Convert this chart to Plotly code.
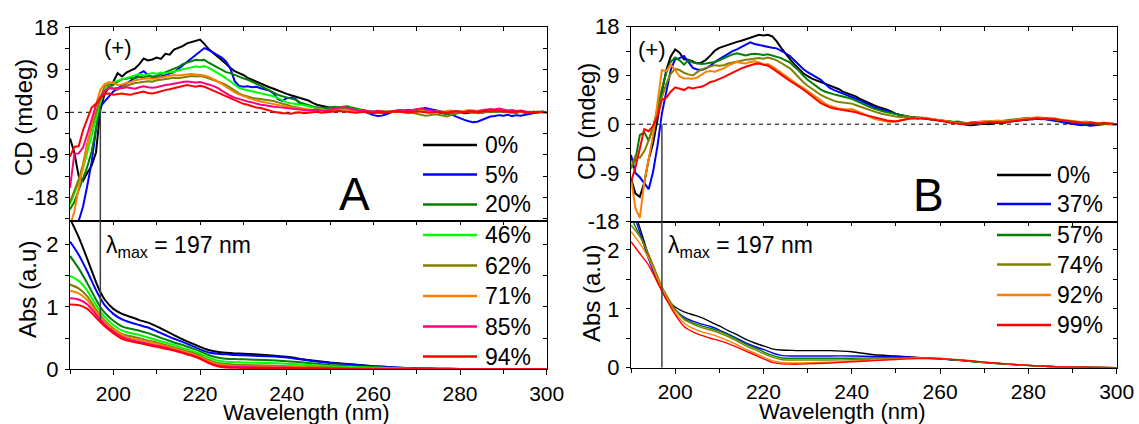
import plotly.graph_objects as go

W, H = 1139, 424
FONT = "Liberation Sans, Arial, sans-serif"

# ---------------- wavelength grids ----------------
WL = list(range(190, 301))
ABS_WL = [190, 192, 194, 196, 197, 198, 200, 202, 204, 206, 208, 210, 212, 214, 216, 218,
          220, 222, 224, 226, 228, 230, 235, 240, 245, 250, 255, 260, 265, 270, 275, 280,
          285, 290, 295, 300]

# ---------------- panel A : CD (mdeg), 1 nm steps 190-300 ----------------
cd_a_0 = [-5.5, -8.5, -13.5, -14.5, -12.8, -11.3, -8.5, 0.5, 4.0, 5.2,
          6.5, 8.3, 7.6, 8.4, 8.8, 9.3, 10.2, 11.4, 11.0, 11.2,
          11.6, 11.3, 12.4, 12.2, 13.3, 13.6, 14.0, 14.6, 14.9, 15.1,
          15.4, 14.5, 13.4, 12.6, 11.9, 11.1, 10.3, 9.4, 8.7, 8.3,
          7.9, 7.3, 6.9, 6.5, 6.0, 5.7, 5.3, 5.0, 4.6, 4.2,
          3.9, 3.6, 3.3, 3.0, 2.7, 2.5, 2.0, 1.6, 1.4, 1.2,
          0.9, 0.8, 0.9, 1.1, 1.0, 0.8, 0.6, 0.5, 0.3, 0.2,
          0.1, 0.2, 0.0, -0.2, 0.1, 0.2, 0.3, 0.5, 0.4, 0.3,
          0.5, 0.6, 0.5, 0.3, 0.1, 0.0, -0.2, -0.3, -0.1, 0.1,
          0.0, -0.2, -0.1, 0.1, 0.0, -0.1, 0.1, 0.3, 0.2, 0.4,
          0.3, 0.2, 0.0, -0.1, 0.1, 0.0, -0.2, -0.1, 0.0, 0.1, 0.0]
cd_a_5 = [-30.0, -26.0, -23.0, -20.0, -15.5, -10.5, -3.6, 1.2, 2.3, 3.3,
          4.4, 5.0, 5.7, 6.1, 6.7, 7.3, 8.2, 8.7, 7.9, 7.4,
          7.3, 7.6, 7.9, 8.1, 8.5, 9.2, 9.9, 10.7, 11.5, 12.2,
          12.9, 13.6, 13.2, 12.7, 12.2, 11.6, 10.8, 9.3, 6.6, 5.6,
          5.4, 5.5, 5.3, 5.4, 5.1, 4.9, 4.6, 4.0, 2.8, 2.4,
          3.0, 3.1, 2.9, 1.9, 1.6, 1.4, 1.1, 1.0, 0.9, 0.7,
          0.6, 0.5, 0.6, 0.8, 0.7, 0.5, 0.3, 0.2, 0.1, -0.3,
          -0.6, -0.8, -0.7, -0.4, 0.0, 0.3, 0.4, 0.3, 0.5, 0.4,
          0.6, 0.8, 0.9, 0.7, 0.5, 0.3, 0.2, -0.1, -0.5, -0.9,
          -1.3, -1.6, -1.9, -2.1, -2.0, -1.6, -1.2, -0.9, -0.8, -0.6,
          -0.7, -0.5, -0.8, -0.6, -0.7, -0.5, -0.3, -0.2, 0.0, 0.1, 0.0]
cd_a_20 = [-20.5, -19.0, -16.5, -14.0, -11.5, -8.3, -3.4, 2.5, 4.6, 5.4,
           5.8, 6.5, 7.0, 7.1, 7.3, 7.2, 7.5, 7.4, 7.7, 7.6,
           7.7, 8.1, 8.5, 8.9, 9.2, 9.6, 10.2, 10.5, 10.9, 11.1,
           11.0, 11.1, 10.5, 10.0, 9.6, 9.0, 8.5, 8.3, 7.9, 7.6,
           7.2, 6.9, 6.5, 6.0, 5.6, 5.1, 4.6, 4.1, 3.7, 3.4,
           3.1, 2.9, 2.7, 2.1, 1.8, 1.5, 1.2, 1.0, 0.9, 0.9,
           1.0, 1.2, 1.1, 1.2, 1.3, 1.0, 0.8, 0.5, 0.3, 0.2,
           0.1, 0.0, -0.2, 0.0, 0.2, 0.1, 0.2, 0.4, 0.3, 0.2,
           0.4, 0.5, 0.4, 0.3, 0.1, 0.0, -0.2, -0.4, -0.3, -0.1,
           0.0, 0.1, 0.0, -0.1, 0.1, 0.2, 0.1, 0.3, 0.2, 0.1,
           0.3, 0.2, 0.0, 0.1, 0.2, 0.0, -0.1, 0.1, 0.0, 0.1, 0.0]
cd_a_46 = [-19.5, -17.2, -14.8, -12.0, -8.5, -5.0, -1.2, 2.2, 4.8, 6.0,
           6.4, 6.7, 7.0, 7.3, 7.6, 7.8, 8.1, 7.8, 8.0, 8.3,
           8.1, 8.4, 8.2, 8.5, 8.6, 8.9, 9.1, 9.3, 9.5, 9.7,
           9.6, 9.8, 9.4, 8.9, 8.4, 7.8, 7.2, 6.5, 5.7, 5.2,
           4.9, 4.7, 4.5, 4.3, 4.0, 3.8, 3.6, 3.4, 3.0, 2.6,
           2.1, 1.9, 1.8, 1.6, 1.5, 1.3, 1.0, 0.8, 0.7, 0.5,
           0.6, 0.8, 0.9, 1.0, 0.9, 0.8, 0.6, 0.4, 0.2, 0.3,
           0.1, 0.0, 0.1, 0.2, 0.3, 0.2, 0.4, 0.5, 0.3, 0.4,
           0.6, 0.7, 0.5, 0.4, 0.2, 0.1, 0.0, -0.2, -0.1, 0.1,
           0.2, 0.0, 0.1, 0.2, 0.3, 0.1, 0.2, 0.4, 0.3, 0.5,
           0.4, 0.2, 0.3, 0.1, 0.2, 0.0, 0.1, 0.0, 0.1, 0.0, 0.0]
cd_a_62 = [-19.0, -16.5, -14.2, -11.0, -6.5, -3.2, 0.0, 3.0, 5.6, 5.8,
           5.0, 4.8, 5.3, 5.6, 6.0, 6.2, 6.3, 6.4, 6.6, 6.5,
           6.8, 6.9, 7.0, 7.1, 7.3, 7.2, 7.4, 7.6, 7.7, 7.6,
           7.7, 7.5, 7.2, 6.9, 6.5, 6.2, 5.8, 5.2, 4.6, 4.0,
           3.6, 3.3, 3.1, 2.9, 2.8, 2.6, 2.5, 2.4, 2.1, 1.9,
           1.6, 1.3, 1.1, 0.9, 0.8, 0.6, 0.5, 0.4, 0.5, 0.3,
           0.2, 0.3, 0.4, 0.2, 0.3, 0.1, 0.0, 0.1, 0.2, 0.0,
           -0.1, 0.0, 0.2, 0.1, 0.2, 0.0, 0.1, 0.0, -0.2, -0.1,
           -0.3, -0.5, -0.7, -0.6, -0.4, -0.5, -0.7, -0.9, -0.6, -0.3,
           -0.1, 0.0, 0.1, 0.0, -0.2, -0.1, 0.0, 0.1, 0.0, 0.2,
           0.1, 0.0, -0.1, 0.0, 0.1, -0.1, 0.0, 0.1, 0.0, 0.0, 0.0]
cd_a_71 = [-24.0, -21.0, -16.0, -11.5, -6.5, -2.5, 1.6, 4.8, 6.0, 6.4,
           6.2, 5.8, 5.9, 6.1, 6.4, 6.8, 7.0, 7.1, 7.2, 7.1,
           7.2, 7.4, 7.6, 7.8, 7.9, 7.8, 7.9, 8.0, 8.1, 8.0,
           7.9, 7.8, 7.5, 7.1, 6.6, 6.0, 5.4, 4.8, 4.2, 3.8,
           3.4, 3.1, 2.8, 2.5, 2.3, 2.1, 1.9, 1.7, 1.5, 1.3,
           1.1, 1.0, 0.9, 0.8, 0.7, 0.6, 0.5, 0.4, 0.6, 0.5,
           0.4, 0.6, 0.7, 0.5, 0.6, 0.4, 0.2, 0.1, 0.3, 0.2,
           0.0, 0.1, 0.0, 0.2, 0.1, 0.3, 0.2, 0.1, 0.2, 0.0,
           0.1, 0.3, 0.2, 0.1, 0.0, 0.2, 0.1, 0.3, 0.4, 0.2,
           0.1, 0.3, 0.5, 0.4, 0.3, 0.5, 0.6, 0.4, 0.5, 0.3,
           0.4, 0.2, 0.3, 0.1, 0.2, 0.0, 0.1, 0.0, 0.1, 0.0, 0.0]
cd_a_85 = [-16.0, -8.8, -8.7, -7.5, -4.6, -1.5, 1.5, 3.3, 4.5, 5.1,
           5.0, 5.2, 5.1, 5.3, 5.2, 5.0, 5.3, 5.5, 5.3, 5.2,
           5.3, 5.6, 5.8, 5.9, 6.1, 6.2, 6.4, 6.5, 6.4, 6.3,
           6.4, 6.2, 5.9, 5.6, 5.2, 4.6, 4.0, 3.5, 3.1, 2.8,
           2.5, 2.3, 2.1, 1.8, 1.6, 1.5, 1.3, 1.2, 1.1, 1.0,
           0.9, 0.8, 0.7, 0.6, 0.5, 0.4, 0.5, 0.6, 0.4, 0.3,
           0.5, 0.8, 0.9, 1.1, 0.9, 0.7, 0.5, 0.3, 0.4, 0.2,
           0.1, 0.3, 0.2, 0.0, 0.1, 0.3, 0.5, 0.4, 0.3, 0.5,
           0.7, 0.8, 0.6, 0.4, 0.3, 0.1, 0.0, -0.2, 0.0, 0.2,
           0.1, 0.0, 0.2, 0.3, 0.2, 0.4, 0.5, 0.7, 0.6, 0.8,
           0.6, 0.4, 0.5, 0.3, 0.4, 0.2, 0.0, 0.1, 0.0, 0.1, 0.0]
cd_a_94 = [-9.4, -7.3, -7.2, -3.8, -1.4, 1.0, 1.8, 3.0, 3.9, 4.0,
           3.7, 3.9, 4.0, 3.8, 3.7, 4.0, 4.2, 4.4, 4.1, 4.0,
           4.2, 4.5, 4.7, 4.9, 5.1, 5.4, 5.6, 5.8, 5.6, 5.4,
           5.6, 5.4, 5.0, 4.6, 4.2, 3.7, 3.3, 2.9, 2.5, 2.1,
           1.8, 1.6, 1.3, 1.0, 0.9, 0.7, 0.4, 0.1, -0.1, -0.2,
           -0.2, -0.3, -0.1, 0.0, -0.2, -0.1, 0.0, 0.1, -0.1, 0.0,
           0.1, 0.2, 0.3, 0.2, 0.1, 0.0, -0.1, 0.0, 0.1, -0.1,
           -0.2, 0.0, 0.1, 0.0, 0.1, 0.2, 0.1, 0.0, 0.1, 0.0,
           0.2, 0.1, 0.0, -0.1, 0.0, 0.1, 0.0, -0.1, 0.1, 0.2,
           0.1, 0.0, 0.2, 0.1, 0.0, 0.1, 0.3, 0.2, 0.4, 0.3,
           0.2, 0.1, 0.0, 0.1, 0.2, 0.0, -0.1, 0.0, 0.1, 0.0, 0.0]

# ---------------- panel A : absorbance (a.u) ----------------
abs_a_0 = [2.42, 2.12, 1.77, 1.40, 1.24, 1.12, 0.97, 0.89, 0.84, 0.79, 0.75, 0.69,
           0.62, 0.55, 0.48, 0.42, 0.36, 0.31, 0.28, 0.265, 0.255, 0.25, 0.23, 0.20,
           0.15, 0.11, 0.08, 0.05, 0.03, 0.015, 0.01, 0.005, 0.0, 0.0, 0.0, 0.0]
abs_a_5 = [2.05, 1.84, 1.57, 1.27, 1.14, 1.03, 0.89, 0.80, 0.75, 0.71, 0.67, 0.61,
           0.55, 0.49, 0.44, 0.38, 0.32, 0.27, 0.25, 0.24, 0.23, 0.225, 0.21, 0.19,
           0.14, 0.10, 0.075, 0.05, 0.03, 0.015, 0.01, 0.005, 0.0, 0.0, 0.0, 0.0]
abs_a_20 = [1.82, 1.62, 1.38, 1.12, 1.00, 0.91, 0.78, 0.69, 0.65, 0.62, 0.58, 0.53,
            0.48, 0.43, 0.39, 0.34, 0.29, 0.23, 0.19, 0.17, 0.165, 0.16, 0.15, 0.13,
            0.10, 0.07, 0.05, 0.035, 0.02, 0.01, 0.005, 0.0, 0.0, 0.0, 0.0, 0.0]
abs_a_46 = [1.50, 1.42, 1.26, 1.03, 0.93, 0.84, 0.71, 0.62, 0.58, 0.55, 0.51, 0.47,
            0.43, 0.39, 0.34, 0.30, 0.25, 0.19, 0.14, 0.12, 0.115, 0.11, 0.10, 0.09,
            0.07, 0.05, 0.035, 0.025, 0.015, 0.01, 0.005, 0.0, 0.0, 0.0, 0.0, 0.0]
abs_a_62 = [1.36, 1.30, 1.17, 0.96, 0.87, 0.78, 0.66, 0.57, 0.53, 0.50, 0.46, 0.43,
            0.39, 0.35, 0.31, 0.27, 0.22, 0.15, 0.10, 0.085, 0.075, 0.07, 0.06, 0.05,
            0.04, 0.03, 0.02, 0.015, 0.01, 0.005, 0.0, 0.0, 0.0, 0.0, 0.0, 0.0]
abs_a_71 = [1.26, 1.22, 1.11, 0.92, 0.84, 0.76, 0.64, 0.55, 0.50, 0.47, 0.44, 0.41,
            0.37, 0.33, 0.29, 0.25, 0.20, 0.13, 0.08, 0.06, 0.05, 0.045, 0.04, 0.04,
            0.03, 0.02, 0.015, 0.01, 0.005, 0.0, 0.0, 0.0, 0.0, 0.0, 0.0, 0.0]
abs_a_85 = [1.14, 1.12, 1.04, 0.88, 0.80, 0.72, 0.61, 0.52, 0.47, 0.44, 0.41, 0.38,
            0.35, 0.31, 0.27, 0.23, 0.18, 0.11, 0.06, 0.045, 0.04, 0.035, 0.03, 0.03,
            0.02, 0.015, 0.01, 0.005, 0.0, 0.0, 0.0, 0.0, 0.0, 0.0, 0.0, 0.0]
abs_a_94 = [1.04, 1.03, 0.97, 0.83, 0.76, 0.69, 0.58, 0.49, 0.45, 0.42, 0.39, 0.36,
            0.33, 0.30, 0.26, 0.22, 0.17, 0.10, 0.05, 0.03, 0.025, 0.02, 0.02, 0.02,
            0.015, 0.01, 0.005, 0.0, 0.0, 0.0, 0.0, 0.0, 0.0, 0.0, 0.0, 0.0]

# ---------------- panel B : CD (mdeg), 1 nm steps 190-300 ----------------
cd_b_0 = [-10.0, -12.8, -13.4, -10.8, -6.5, -3.5, 0.8, 6.0, 10.0, 12.5,
          13.8, 13.2, 12.0, 11.9, 11.6, 11.2, 11.4, 11.9, 12.7, 13.6,
          14.1, 14.4, 14.7, 14.9, 15.2, 15.4, 15.7, 15.9, 16.3, 16.5,
          16.4, 16.5, 16.2, 15.3, 14.1, 13.0, 12.0, 11.1, 10.2, 9.4,
          8.9, 8.4, 8.1, 7.8, 7.5, 7.2, 6.9, 6.5, 6.0, 5.7,
          5.4, 5.1, 4.6, 4.2, 3.8, 3.5, 3.2, 3.0, 2.7, 2.3,
          1.9, 1.7, 1.5, 1.4, 1.3, 1.2, 1.1, 1.0, 0.9, 0.8,
          0.8, 0.7, 0.6, 0.4, 0.2, 0.0, -0.1, -0.2, -0.1, 0.0,
          0.1, 0.0, 0.2, 0.3, 0.2, 0.4, 0.5, 0.6, 0.7, 0.8,
          0.8, 0.9, 1.0, 0.9, 1.0, 0.9, 0.8, 0.6, 0.4, 0.2,
          0.1, 0.0, -0.1, -0.1, -0.2, -0.1, 0.0, 0.1, 0.0, 0.1, 0.0]
cd_b_37 = [-5.7, -9.0, -9.8, -11.0, -12.0, -8.8, -4.0, 2.0, 6.0, 10.0,
           12.0, 12.2, 12.6, 11.5, 10.4, 10.1, 10.0, 10.3, 10.8, 11.5,
           12.0, 12.6, 13.1, 13.5, 13.8, 14.2, 14.6, 15.1, 14.8, 14.6,
           14.4, 14.2, 14.1, 14.0, 13.6, 13.1, 12.6, 11.8, 11.0, 10.2,
           9.6, 9.1, 8.7, 8.2, 7.4, 6.7, 6.3, 6.0, 5.7, 5.4,
           5.1, 4.7, 4.3, 3.9, 3.5, 3.2, 2.9, 2.7, 2.5, 2.2,
           1.9, 1.6, 1.4, 1.3, 1.2, 1.1, 1.2, 1.0, 0.9, 0.8,
           0.7, 0.5, 0.4, 0.3, 0.2, 0.1, 0.0, 0.1, 0.2, 0.1,
           0.2, 0.3, 0.2, 0.4, 0.3, 0.5, 0.6, 0.7, 0.8, 0.9,
           1.0, 0.9, 1.1, 1.0, 0.9, 0.8, 0.7, 0.5, 0.3, 0.2,
           0.1, -0.1, -0.2, -0.1, -0.3, -0.2, -0.1, 0.0, 0.1, 0.0, 0.0]
cd_b_57 = [-8.2, -6.5, -2.0, -1.5, -3.0, -0.5, 2.8, 6.5, 9.5, 11.5,
           12.3, 11.8, 11.0, 11.8, 11.4, 11.3, 11.1, 11.2, 11.3, 11.5,
           11.8, 12.2, 12.6, 12.9, 13.1, 12.9, 12.7, 12.9, 13.0, 12.9,
           12.8, 12.9, 12.7, 12.5, 12.2, 11.8, 11.4, 10.6, 9.9, 9.0,
           8.2, 7.6, 7.0, 6.4, 6.0, 5.7, 5.5, 5.3, 5.1, 4.9,
           4.7, 4.3, 3.9, 3.6, 3.2, 2.9, 2.6, 2.4, 2.2, 2.0,
           1.8, 1.6, 1.5, 1.4, 1.3, 1.2, 1.1, 1.0, 0.9, 0.8,
           0.7, 0.6, 0.5, 0.4, 0.5, 0.3, 0.2, 0.3, 0.4, 0.3,
           0.4, 0.5, 0.6, 0.5, 0.6, 0.7, 0.8, 0.9, 1.0, 1.1,
           1.2, 1.1, 1.2, 1.0, 1.1, 1.0, 0.9, 0.8, 0.6, 0.5,
           0.4, 0.3, 0.2, 0.1, 0.2, 0.1, 0.0, 0.1, 0.0, 0.0, 0.0]
cd_b_74 = [-8.0, -5.8, -6.2, -5.0, -3.0, -0.5, 2.0, 5.0, 7.5, 9.3,
           10.2, 10.0, 9.5, 9.2, 9.0, 9.6, 10.1, 10.4, 10.7, 10.9,
           10.8, 10.9, 11.2, 11.4, 11.6, 11.8, 11.9, 12.0, 12.1, 12.2,
           12.1, 12.3, 12.1, 11.8, 11.3, 10.8, 10.3, 9.5, 8.6, 7.8,
           7.1, 6.5, 6.0, 5.4, 5.0, 4.6, 4.3, 4.1, 4.0, 3.9,
           3.8, 3.5, 3.2, 2.9, 2.6, 2.3, 2.1, 1.9, 1.7, 1.5,
           1.4, 1.3, 1.4, 1.3, 1.2, 1.3, 1.2, 1.1, 1.0, 0.9,
           0.8, 0.6, 0.5, 0.3, 0.2, 0.1, 0.0, 0.1, 0.2, 0.1,
           0.3, 0.4, 0.5, 0.4, 0.5, 0.6, 0.7, 0.8, 0.9, 1.0,
           1.1, 1.0, 1.1, 1.2, 1.0, 1.1, 0.9, 0.8, 0.7, 0.6,
           0.5, 0.4, 0.3, 0.4, 0.3, 0.2, 0.1, 0.2, 0.1, 0.0, 0.0]
cd_b_92 = [-10.0, -15.5, -17.3, -10.8, -6.5, -2.0, 4.0, 10.0, 9.8, 11.0,
           10.0, 8.8, 8.5, 8.4, 8.4, 8.6, 9.2, 9.7, 9.8, 9.7,
           10.0, 10.3, 10.8, 11.2, 11.5, 11.3, 11.2, 11.5, 11.6, 11.4,
           11.0, 11.1, 10.7, 10.1, 9.5, 8.9, 8.3, 7.7, 7.2, 6.7,
           6.1, 5.6, 5.0, 4.4, 3.8, 3.4, 3.1, 2.9, 2.8, 2.7,
           2.8, 2.5, 2.1, 1.8, 1.4, 1.0, 0.8, 0.6, 0.5, 0.4,
           0.5, 0.7, 0.9, 1.0, 1.1, 1.2, 1.1, 1.2, 1.0, 0.9,
           0.8, 0.6, 0.4, 0.3, 0.2, 0.1, 0.2, 0.3, 0.4, 0.5,
           0.6, 0.5, 0.6, 0.7, 0.6, 0.5, 0.6, 0.8, 0.9, 1.0,
           1.1, 1.2, 1.3, 1.2, 1.1, 1.2, 1.0, 0.9, 0.8, 0.7,
           0.6, 0.5, 0.4, 0.5, 0.4, 0.3, 0.2, 0.3, 0.1, 0.0, 0.0]
cd_b_99 = [-10.6, -8.0, -4.5, -0.9, -1.3, -0.3, 1.5, 4.5, 4.9, 6.0,
           6.8, 6.5, 6.3, 6.8, 6.6, 6.8, 6.9, 7.3, 7.8, 8.0,
           8.3, 8.7, 9.1, 9.5, 10.0, 10.3, 10.6, 10.9, 11.1, 11.2,
           11.0, 10.8, 10.3, 9.7, 9.1, 8.5, 8.0, 7.5, 7.0, 6.4,
           5.8, 5.1, 4.5, 3.9, 3.5, 3.1, 2.9, 2.7, 2.6, 2.5,
           2.4, 2.2, 1.9, 1.7, 1.4, 1.2, 1.0, 0.8, 0.7, 0.6,
           0.5, 0.7, 0.9, 1.0, 1.1, 1.0, 1.1, 1.0, 0.8, 0.7,
           0.6, 0.5, 0.3, 0.2, 0.1, 0.0, 0.1, 0.2, 0.3, 0.2,
           0.3, 0.4, 0.3, 0.4, 0.3, 0.4, 0.5, 0.6, 0.7, 0.8,
           0.9, 1.0, 1.1, 1.0, 1.1, 0.9, 1.0, 0.8, 0.7, 0.6,
           0.5, 0.4, 0.3, 0.2, 0.3, 0.2, 0.1, 0.2, 0.1, 0.0, 0.0]

# ---------------- panel B : absorbance (a.u) ----------------
abs_b_0 = [2.85, 2.38, 1.90, 1.47, 1.32, 1.18, 1.03, 0.95, 0.90, 0.85, 0.78, 0.71,
           0.63, 0.56, 0.48, 0.42, 0.37, 0.32, 0.30, 0.295, 0.29, 0.29, 0.29, 0.27,
           0.22, 0.20, 0.175, 0.15, 0.12, 0.09, 0.06, 0.04, 0.02, 0.01, 0.005, 0.0]
abs_b_37 = [2.75, 2.30, 1.84, 1.46, 1.31, 1.16, 0.99, 0.86, 0.79, 0.74, 0.70, 0.64,
            0.57, 0.50, 0.42, 0.36, 0.31, 0.25, 0.21, 0.20, 0.20, 0.20, 0.20, 0.20,
            0.19, 0.185, 0.17, 0.15, 0.12, 0.09, 0.06, 0.04, 0.02, 0.01, 0.005, 0.0]
abs_b_57 = [2.55, 2.24, 1.90, 1.50, 1.33, 1.20, 0.99, 0.84, 0.76, 0.71, 0.67, 0.62,
            0.56, 0.48, 0.40, 0.34, 0.27, 0.21, 0.17, 0.16, 0.16, 0.16, 0.16, 0.16,
            0.165, 0.17, 0.165, 0.155, 0.12, 0.085, 0.06, 0.035, 0.02, 0.01, 0.005, 0.0]
abs_b_74 = [2.42, 2.23, 1.93, 1.56, 1.38, 1.24, 0.99, 0.82, 0.74, 0.68, 0.64, 0.59,
            0.53, 0.45, 0.37, 0.31, 0.24, 0.18, 0.14, 0.13, 0.13, 0.13, 0.13, 0.135,
            0.145, 0.155, 0.16, 0.155, 0.125, 0.09, 0.065, 0.04, 0.02, 0.01, 0.005, 0.0]
abs_b_92 = [2.31, 2.11, 1.86, 1.51, 1.35, 1.20, 0.94, 0.76, 0.67, 0.61, 0.57, 0.52,
            0.46, 0.39, 0.31, 0.25, 0.18, 0.12, 0.09, 0.08, 0.08, 0.085, 0.095, 0.11,
            0.13, 0.15, 0.16, 0.16, 0.13, 0.095, 0.065, 0.04, 0.02, 0.01, 0.005, 0.0]
abs_b_99 = [2.14, 1.94, 1.74, 1.45, 1.30, 1.16, 0.90, 0.70, 0.61, 0.55, 0.50, 0.46,
            0.41, 0.35, 0.28, 0.22, 0.15, 0.09, 0.065, 0.06, 0.06, 0.065, 0.08, 0.10,
            0.12, 0.14, 0.155, 0.155, 0.13, 0.095, 0.065, 0.04, 0.02, 0.01, 0.005, 0.0]

# ---------------- series labels / colours ----------------
labels_a = ["0%", "5%", "20%", "46%", "62%", "71%", "85%", "94%"]
colors_a = ["#000000", "#0000FF", "#008000", "#00FF00", "#808000", "#FF8000", "#FF0080", "#FF0000"]
cd_a = [cd_a_0, cd_a_5, cd_a_20, cd_a_46, cd_a_62, cd_a_71, cd_a_85, cd_a_94]
abs_a = [abs_a_0, abs_a_5, abs_a_20, abs_a_46, abs_a_62, abs_a_71, abs_a_85, abs_a_94]

labels_b = ["0%", "37%", "57%", "74%", "92%", "99%"]
colors_b = ["#000000", "#0000FF", "#008000", "#808000", "#FF8000", "#FF0000"]
cd_b = [cd_b_0, cd_b_37, cd_b_57, cd_b_74, cd_b_92, cd_b_99]
abs_b = [abs_b_0, abs_b_37, abs_b_57, abs_b_74, abs_b_92, abs_b_99]

LAMBDA_MAX = 197

# ---------------- geometry (pixels) ----------------
def px_x(p):
    return p / W


def px_y(p):
    return 1 - p / H


dom_xa = [px_x(70), px_x(546.7)]
dom_xb = [px_x(631), px_x(1116.7)]
dom_a_top = [px_y(220.7), px_y(27.3)]
dom_a_bot = [px_y(369.3), px_y(220.7)]
dom_b_top = [px_y(221.7), px_y(26.7)]
dom_b_bot = [px_y(367.7), px_y(221.7)]

rng_a_top = [-22.95, 18]
rng_a_bot = [0, 2.385]
rng_b_top = [-18, 18]
rng_b_bot = [0, 2.48]

fig = go.Figure()

for lab, col, cd, ab in zip(labels_a, colors_a, cd_a, abs_a):
    fig.add_trace(go.Scatter(x=WL, y=cd, mode="lines", line=dict(color=col, width=2),
                             xaxis="x", yaxis="y", showlegend=False, name=lab))
    fig.add_trace(go.Scatter(x=ABS_WL, y=ab, mode="lines",
                             line=dict(color=col, width=2, shape="spline", smoothing=0.6),
                             xaxis="x2", yaxis="y2", showlegend=False, name=lab))
for lab, col, cd, ab in zip(labels_b, colors_b, cd_b, abs_b):
    fig.add_trace(go.Scatter(x=WL, y=cd, mode="lines", line=dict(color=col, width=2),
                             xaxis="x3", yaxis="y3", showlegend=False, name=lab))
    fig.add_trace(go.Scatter(x=ABS_WL, y=ab, mode="lines",
                             line=dict(color=col, width=1.4, shape="spline", smoothing=0.6),
                             xaxis="x4", yaxis="y4", showlegend=False, name=lab))

# empty traces that bring the inner-tick (top / right) axes to life
main_x = ["x", "x2", "x3", "x4"]
main_y = ["y", "y2", "y3", "y4"]
for k in range(4):
    fig.add_trace(go.Scatter(x=[None], y=[None], xaxis=f"x{k + 5}", yaxis=main_y[k],
                             showlegend=False, hoverinfo="skip"))
    fig.add_trace(go.Scatter(x=[None], y=[None], xaxis=main_x[k], yaxis=f"y{k + 5}",
                             showlegend=False, hoverinfo="skip"))

AX = dict(showgrid=False, zeroline=False, showline=True, linecolor="black", linewidth=1.3,
          mirror=True, tickcolor="black", tickwidth=1.2, automargin=False)

panels = [
    (dom_xa, dom_a_top, rng_a_top, False, [18, 9, 0, -9, -18], 4.5),
    (dom_xa, dom_a_bot, rng_a_bot, True, [0, 1, 2], 0.5),
    (dom_xb, dom_b_top, rng_b_top, False, [18, 9, 0, -9, -18], 4.5),
    (dom_xb, dom_b_bot, rng_b_bot, True, [0, 1, 2], 0.5),
]

layout = {}
for i, (dx, dy, ry, bottom, yt, ydt) in enumerate(panels, start=1):
    xs = "" if i == 1 else str(i)
    xa = dict(AX, domain=dx, anchor=f"y{xs}", range=[190, 300],
              tickfont=dict(family=FONT, size=21, color="black"))
    if bottom:
        xa.update(tickmode="array", tickvals=[200, 220, 240, 260, 280, 300], ticks="outside", ticklen=5,
                  minor=dict(tickmode="linear", tick0=190, dtick=10, ticks="outside", ticklen=4,
                             tickcolor="black", tickwidth=1.2))
    else:
        xa.update(ticks="", showticklabels=False)
    ya = dict(AX, domain=dy, anchor=f"x{xs}", range=ry, tickmode="array", tickvals=yt,
              ticktext=[str(v) for v in yt], ticks="outside", ticklen=4,
              tickfont=dict(family=FONT, size=22, color="black"),
              minor=dict(tickmode="linear", tick0=0, dtick=ydt, ticks="outside", ticklen=4,
                         tickcolor="black", tickwidth=1.2),
              ticklabelstandoff=2)
    layout[f"xaxis{xs}"] = xa
    layout[f"yaxis{xs}"] = ya
    layout[f"xaxis{i + 4}"] = dict(overlaying=f"x{xs}", side="top", anchor=f"y{xs}", range=[190, 300],
                                   showgrid=False, zeroline=False, showline=False, showticklabels=False,
                                   ticks="inside", tickmode="linear", tick0=190, dtick=10, ticklen=4,
                                   tickcolor="black", tickwidth=1.2, automargin=False)
    layout[f"yaxis{i + 4}"] = dict(overlaying=f"y{xs}", side="right", anchor=f"x{xs}", range=ry,
                                   showgrid=False, zeroline=False, showline=False, showticklabels=False,
                                   ticks="inside", tickmode="linear", tick0=0, dtick=ydt, ticklen=4,
                                   tickcolor="black", tickwidth=1.2, automargin=False)

shapes = []
annotations = []

# zero reference in the CD panels
for xr, yr in (("x", "y"), ("x3", "y3")):
    shapes.append(dict(type="line", xref=xr, yref=yr, x0=190, x1=300, y0=0, y1=0,
                       line=dict(color="black", width=1, dash="4px,4px"), layer="below"))

# lambda_max marker
LC = dict(color="#404040", width=1.5)
shapes.append(dict(type="line", xref="x", yref="y", x0=LAMBDA_MAX, x1=LAMBDA_MAX, y0=rng_a_top[0], y1=1.2, line=LC))
shapes.append(dict(type="line", xref="x2", yref="y2", x0=LAMBDA_MAX, x1=LAMBDA_MAX, y0=0.79, y1=rng_a_bot[1], line=LC))
shapes.append(dict(type="line", xref="x3", yref="y3", x0=LAMBDA_MAX, x1=LAMBDA_MAX, y0=rng_b_top[0], y1=0, line=LC))
shapes.append(dict(type="line", xref="x4", yref="y4", x0=LAMBDA_MAX, x1=LAMBDA_MAX, y0=0, y1=rng_b_bot[1], line=LC))

TXT = dict(family=FONT, color="black")


def text(px, py, s, size, xanchor="center", yanchor="middle", angle=0):
    annotations.append(dict(x=px_x(px), y=px_y(py), xref="paper", yref="paper", text=s, showarrow=False,
                            xanchor=xanchor, yanchor=yanchor, textangle=angle,
                            font=dict(TXT, size=size)))


# legends drawn inside the panels
def legend(labels, colors, x0, x1, tx, rows):
    for lab, col, ry in zip(labels, colors, rows):
        shapes.append(dict(type="line", xref="paper", yref="paper", x0=px_x(x0), x1=px_x(x1),
                           y0=px_y(ry), y1=px_y(ry), line=dict(color=col, width=2.5)))
        text(tx, ry, lab, 23, xanchor="left")


legend(labels_a, colors_a, 423, 477, 483, [145, 174.5, 204.5, 235, 265.5, 296, 326.5, 356.5])
legend(labels_b, colors_b, 997, 1051, 1055, [175, 204, 235, 264.5, 295, 325])

# axis titles
text(23, 118, "CD (mdeg)", 24, angle=-90)
text(27, 290, "Abs (a.u)", 24, angle=-90)
text(586, 122, "CD (mdeg)", 24, angle=-90)
text(591, 294, "Abs (a.u)", 24, angle=-90)
text(306, 412, "Wavelength (nm)", 22, yanchor="middle")
text(842, 411, "Wavelength (nm)", 22, yanchor="middle")

# panel letters and marks
text(354, 194, "A", 46)
text(928, 195, "B", 46)
text(118, 48, "(+)", 22)
text(652, 49, "(+)", 22)
text(104, 246, "λ<sub>max</sub> = 197 nm", 23, xanchor="left")
text(666, 246, "λ<sub>max</sub> = 197 nm", 23, xanchor="left")

fig.update_layout(
    width=W, height=H, autosize=False,
    margin=dict(l=0, r=0, t=0, b=0),
    paper_bgcolor="white", plot_bgcolor="white",
    font=dict(family=FONT, color="black"),
    showlegend=False,
    shapes=shapes, annotations=annotations,
    **layout,
)

fig.write_html("out.html")
